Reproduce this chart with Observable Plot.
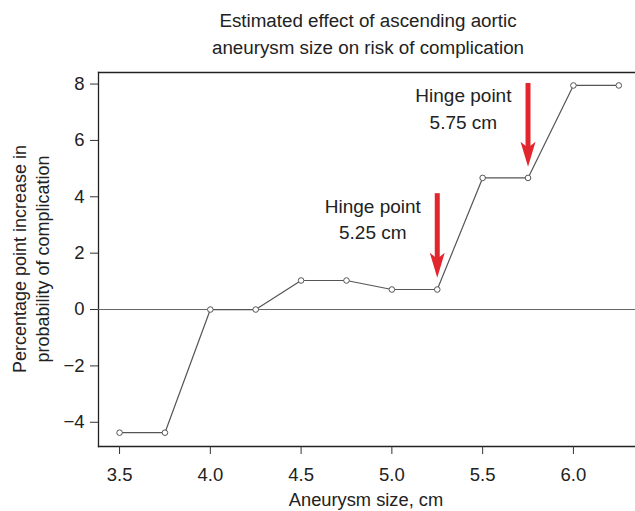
<!DOCTYPE html>
<html><head><meta charset="utf-8">
<script src="https://cdn.jsdelivr.net/npm/d3@7"></script>
<script src="https://cdn.jsdelivr.net/npm/@observablehq/plot@0.6"></script>
<style>html,body{margin:0;padding:0;background:#fff;overflow:hidden} svg{display:block}</style>
</head><body><div id="chart"></div>
<script>
// ---- data ----
const sizes   = [3.5, 3.75, 4.0, 4.25, 4.5, 4.75, 5.0, 5.25, 5.5, 5.75, 6.0, 6.25];
const effects = [-4.37, -4.37, 0, 0, 1.03, 1.03, 0.71, 0.71, 4.67, 4.67, 7.95, 7.95];
const xTicks = [3.5, 4.0, 4.5, 5.0, 5.5, 6.0];
const yTicks = [-4, -2, 0, 2, 4, 6, 8];
const hingeSizes = [5.25, 5.75];
const arrowTops  = [4.11, 8.02];
const arrowTips  = [1.13, 5.07];
const noteX = [4.895, 5.394];
const noteY = [3.26, 7.19];
const noteText = ["Hinge point\n5.25 cm", "Hinge point\n5.75 cm"];
const titleLines = ["Estimated effect of ascending aortic", "aneurysm size on risk of complication"];
const xLabel = "Aneurysm size, cm";
const yLabelLines = ["Percentage point increase in", "probability of complication"];

const points = sizes.map((s, i) => ({size: s, effect: effects[i]}));
const arrows = hingeSizes.map((h, i) => ({x: h, top: arrowTops[i], tip: arrowTips[i]}));
const notes = noteX.map((x, i) => ({x, y: noteY[i], text: noteText[i]}));

const RED = "#e2262d";
const arrowHead = {
  draw(ctx) {
    ctx.moveTo(0, 0);
    ctx.lineTo(-7.5, -25);
    ctx.lineTo(0, -19);
    ctx.lineTo(7.5, -25);
    ctx.closePath();
  }
};
const minus = d => d < 0 ? "\u2212" + Math.abs(d) : String(d);

const W = 635, H = 511, ML = 98, MT = 72, MB = 65, MR = 0;

const chart = Plot.plot({
  width: W, height: H,
  marginLeft: ML, marginTop: MT, marginBottom: MB, marginRight: MR,
  style: {fontFamily: "'Liberation Sans', Arial, Helvetica, sans-serif", fontSize: "18px", color: "#222", background: "#fff"},
  x: {domain: [3.384, 6.342]},
  y: {domain: [-4.86, 8.41]},
  marks: [
    Plot.frame({anchor: "top", stroke: "#222", strokeWidth: 1.3}),
    Plot.frame({anchor: "left", stroke: "#222", strokeWidth: 1.3}),
    Plot.frame({anchor: "bottom", stroke: "#222", strokeWidth: 1.3}),
    Plot.axisX({ticks: xTicks, tickFormat: d3.format(".1f"), tickSize: 8, tickPadding: 13, label: null, stroke: "#333", fontSize: 18.5, fill: "#222"}),
    Plot.axisY({ticks: yTicks, tickFormat: minus, tickSize: 8, tickPadding: 6, label: null, stroke: "#333", fontSize: 18.5, fill: "#222"}),
    Plot.ruleY([0], {stroke: "#666", strokeWidth: 1}),
    Plot.line(points, {x: "size", y: "effect", stroke: "#555", strokeWidth: 1.2}),
    Plot.dot(points, {x: "size", y: "effect", r: 2.8, stroke: "#555", fill: "#fff", strokeWidth: 1}),
    Plot.ruleX(arrows, {x: "x", y1: "top", y2: "tip", stroke: RED, strokeWidth: 5, insetBottom: 14}),
    Plot.dot(arrows, {x: "x", y: "tip", symbol: arrowHead, fill: RED, stroke: "none", r: 5}),
    Plot.text(notes, {x: "x", y: "y", text: "text", lineHeight: 1.4, fontSize: 19, fill: "#222"})
  ]
});

const svg = d3.select(chart);
svg.selectAll("g[aria-label='x-axis tick label'], g[aria-label='y-axis tick label']")
  .attr("font-size", 18.5).style("font-size", "18.5px");
svg.selectAll("g[aria-label='x-axis tick label'] text, g[aria-label='y-axis tick label'] text")
  .style("font-size", "18.5px");
const tcx = 368;
titleLines.forEach((t, i) => {
  svg.append("text").attr("x", tcx).attr("y", 27 + i * 26.5)
    .attr("text-anchor", "middle").attr("fill", "#222").attr("font-size", 18.8).text(t);
});
svg.append("text").attr("x", 366).attr("y", 506)
  .attr("text-anchor", "middle").attr("fill", "#222").attr("font-size", 18.3).text(xLabel);
yLabelLines.forEach((t, i) => {
  svg.append("text").attr("transform", `translate(${26 + i * 23},259) rotate(-90)`)
    .attr("text-anchor", "middle").attr("fill", "#222").attr("font-size", 18).text(t);
});
document.getElementById("chart").appendChild(chart);
</script>
</body></html>
